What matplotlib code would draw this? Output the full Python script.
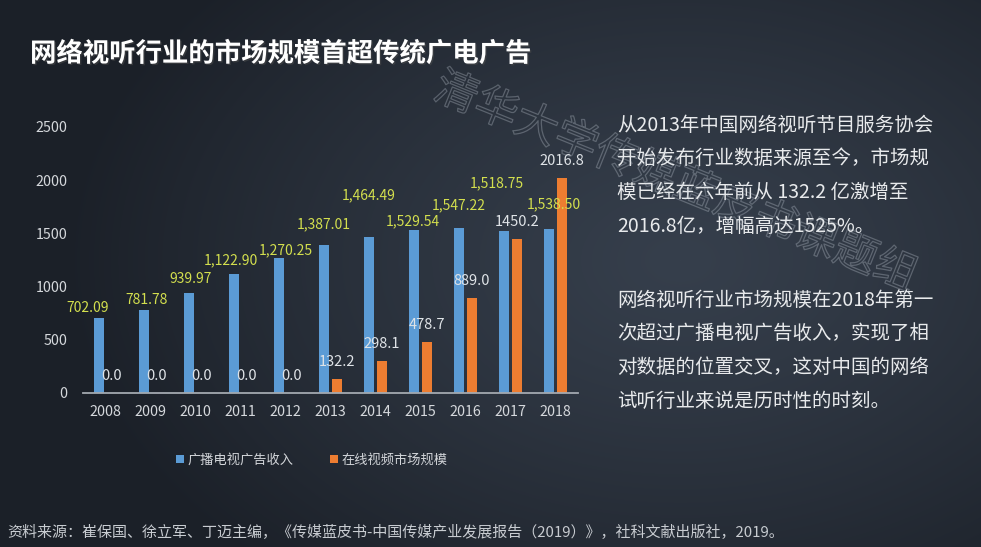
import numpy as np
import matplotlib
matplotlib.use("Agg")
import matplotlib.pyplot as plt
import matplotlib.patheffects as pe

plt.rcParams['font.family'] = ['Noto Sans CJK SC', 'DejaVu Sans']

# ---------------- data ----------------
years = ['2008', '2009', '2010', '2011', '2012', '2013',
         '2014', '2015', '2016', '2017', '2018']
tv_ad = [702.09, 781.78, 939.97, 1122.90, 1270.25, 1387.01,
         1464.49, 1529.54, 1547.22, 1518.75, 1538.50]
online_video = [0.0, 0.0, 0.0, 0.0, 0.0, 132.2,
                298.1, 478.7, 889.0, 1450.2, 2016.8]
y_ticks = [0, 500, 1000, 1500, 2000, 2500]

series_names = ['广播电视广告收入', '在线视频市场规模']
title = '网络视听行业的市场规模首超传统广电广告'
para1 = ['从2013年中国网络视听节目服务协会',
         '开始发布行业数据来源至今，市场规',
         '模已经在六年前从 132.2 亿激增至',
         '2016.8亿，增幅高达1525%。']
para2 = ['网络视听行业市场规模在2018年第一',
         '次超过广播电视广告收入，实现了相',
         '对数据的位置交叉，这对中国的网络',
         '试听行业来说是历时性的时刻。']
source = '资料来源：崔保国、徐立军、丁迈主编，《传媒蓝皮书-中国传媒产业发展报告（2019）》，社科文献出版社，2019。'
watermark = '清华大学传媒蓝皮书课题组'

# label nudges (pixels) as placed in the original slide
tv_dx = [-11, 3, 2, -3, 7, 0, 0, -1, 0, -7, 5]
tv_dy = [10, 10, 14, 13, 8, 21, 42, 9, 23, 48, 25]

blue = '#5b9bd5'
orange = '#ed7d31'
W, H = 981, 547

fig = plt.figure(figsize=(W / 100, H / 100), dpi=100)

# background gradient
bg = fig.add_axes([0, 0, 1, 1], zorder=-10)
yy, xx = np.mgrid[0:H, 0:W]
r = np.sqrt(((xx - 680) / 620.0) ** 2 + ((yy - 260) / 420.0) ** 2)
t = np.clip(r, 0, 1) ** 1.2
inner = np.array([0x36, 0x3f, 0x4c]) / 255
outer = np.array([0x1b, 0x20, 0x28]) / 255
img = inner[None, None, :] * (1 - t[..., None]) + outer[None, None, :] * t[..., None]
bg.imshow(img, aspect='auto', extent=[0, 1, 0, 1], origin='upper')
bg.axis('off')

# chart
ax = fig.add_axes([83 / W, (H - 393) / H, 495 / W, 266 / H])
ax.set_facecolor('none')
x = np.arange(len(years))
off, bw = 0.145, 0.22
b1 = ax.bar(x - off, tv_ad, bw, color=blue, label=series_names[0])
b2 = ax.bar(x + off, online_video, bw, color=orange, label=series_names[1])

for i, v in enumerate(tv_ad):
    ax.annotate(f'{v:,.2f}', (x[i] - off, v), xytext=(tv_dx[i], tv_dy[i]),
                textcoords='offset pixels', ha='center', va='center',
                fontsize=10, color='#d3df4e')
for i, v in enumerate(online_video):
    ax.annotate(f'{v:.1f}', (x[i] + off, v), xytext=(0, 17),
                textcoords='offset pixels', ha='center', va='center',
                fontsize=10.5, color='#dfe3e7')

ax.set_xlim(-0.5, len(years) - 0.5)
ax.set_ylim(0, 2500)
ax.set_xticks(x)
ax.set_xticklabels(years)
ax.set_yticks(y_ticks)
ax.tick_params(length=0, colors='#d5d8dc', labelsize=10.3)
ax.tick_params(axis='y', pad=11)
ax.tick_params(axis='x', pad=9)
for s in ['top', 'right', 'left']:
    ax.spines[s].set_visible(False)
ax.spines['bottom'].set_color('#a3a9b0')
ax.spines['bottom'].set_linewidth(1.3)

fig.legend(handles=[b1, b2], labels=series_names, loc='center',
           bbox_to_anchor=(312 / W, 1 - 460 / H), ncol=2, frameon=False,
           fontsize=9.5, handlelength=0.55, handleheight=0.55,
           handletextpad=0.3, columnspacing=2.8, labelcolor='#d3d6da')

# title
fig.text(30 / W, 1 - 54 / H, title, fontsize=19, fontweight='bold',
         color='white', ha='left', va='center',
         path_effects=[pe.withSimplePatchShadow(offset=(1, -1), alpha=0.5)])

# right text
for k, line in enumerate(para1):
    fig.text(617 / W, 1 - (125 + 33.7 * k) / H, line, fontsize=14,
             color='#e8eaec', ha='left', va='center')
for k, line in enumerate(para2):
    fig.text(617 / W, 1 - (300 + 33.7 * k) / H, line, fontsize=14,
             color='#e8eaec', ha='left', va='center')

# watermark
fig.text(436 / W, 1 - 86 / H, watermark, fontsize=31, color=(0, 0, 0, 0),
         rotation=-22, rotation_mode='anchor', ha='left', va='center',
         path_effects=[pe.Stroke(linewidth=0.9, foreground=(0.8, 0.83, 0.87, 0.3))])

# source
fig.text(7 / W, 1 - 533 / H, source, fontsize=10.8, color='#c8ccd1',
         ha='left', va='center')

fig.savefig('out.png', dpi=100)
